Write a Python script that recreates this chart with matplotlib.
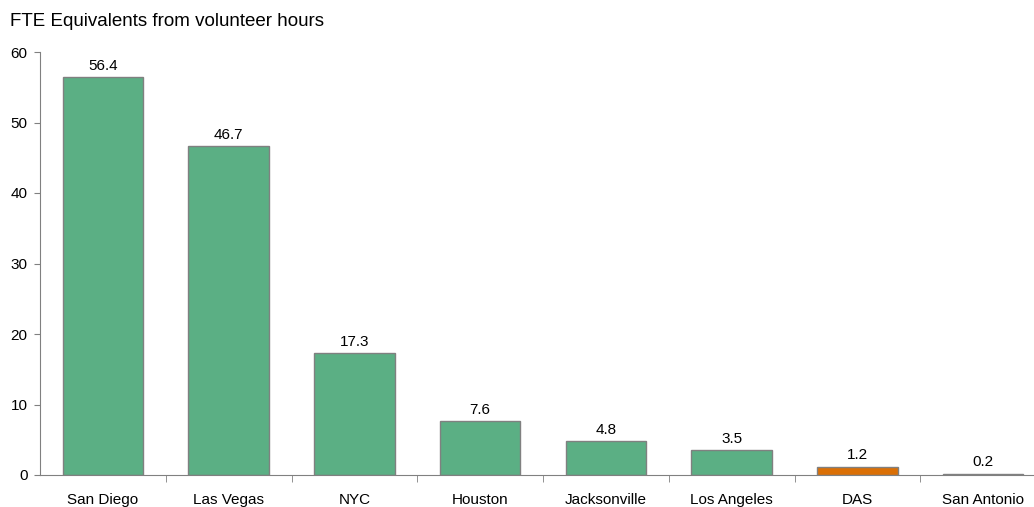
import numpy as np
import matplotlib
matplotlib.use("Agg")
import matplotlib.pyplot as plt

plt.rcParams['font.family'] = ['Liberation Sans', 'DejaVu Sans']

cities = ["San Diego", "Las Vegas", "NYC", "Houston", "Jacksonville",
          "Los Angeles", "DAS", "San Antonio"]
fte = [56.4, 46.7, 17.3, 7.6, 4.8, 3.5, 1.2, 0.2]
colors = ["#5BAF84"] * 6 + ["#DA6F05", "#5BAF84"]

fig = plt.figure(figsize=(10.34, 5.07), dpi=100)
ax = fig.add_axes([40 / 1034, 1 - 475 / 507, 1006 / 1034, 423 / 507])

x = np.arange(len(cities))
bars = ax.bar(x, fte, width=0.64, color=colors, edgecolor="#808080", linewidth=1)
for xi, v in zip(x, fte):
    ax.annotate(f"{v:.1f}", (xi, v), xytext=(0, 3), textcoords="offset points",
                ha="center", va="bottom", fontsize=11)

ax.set_xlim(-0.5, 7.5)
ax.set_ylim(0, 60)
ax.set_yticks([0, 10, 20, 30, 40, 50, 60])
ax.set_xticks(x)
ax.set_xticklabels(cities, fontsize=11)
ax.tick_params(axis="x", length=0, pad=13)
ax.set_xticks(np.arange(0.5, 7.5, 1), minor=True)
ax.tick_params(axis="x", which="minor", length=5, color="#808080", direction="out")
ax.tick_params(axis="y", length=4, color="#808080", labelsize=11, pad=5)

for s in ["top", "right"]:
    ax.spines[s].set_visible(False)
for s in ["left", "bottom"]:
    ax.spines[s].set_color("#808080")

fig.text(10 / 1034, 1 - 22 / 507, "FTE Equivalents from volunteer hours",
         fontsize=13.5, va="center", ha="left")

fig.savefig("out.png", dpi=100)
